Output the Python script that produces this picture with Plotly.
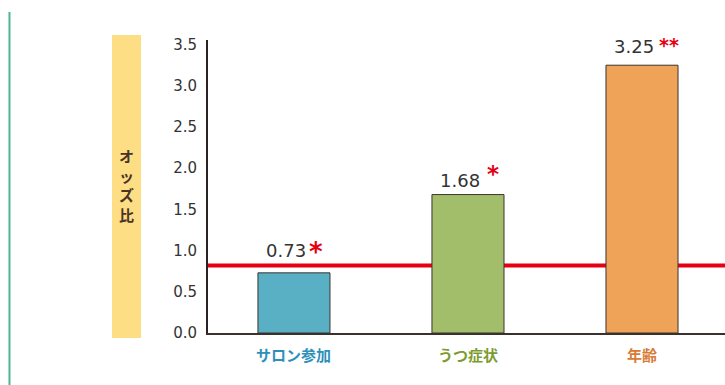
import plotly.graph_objects as go

# Odds ratios by factor
categories = ["サロン参加", "うつ症状", "年齢"]
odds_ratios = [0.73, 1.68, 3.25]
significance = ["*", "*", "**"]
reference_line = 0.82
y_ticks = [0.0, 0.5, 1.0, 1.5, 2.0, 2.5, 3.0, 3.5]
y_title = "オッズ比"

bar_colors = ["#59AFC4", "#A3BE6A", "#EEA359"]
label_colors = ["#2E90BA", "#7C9B2E", "#D77B37"]
value_yshift = [10, 2, 6]
star_yshift = [4, 6, 7]
star_xshift = [13, 17, 15]
star_sizes = [26, 23, 19]

x_pos = list(range(len(categories)))

fig = go.Figure()
fig.add_trace(go.Bar(
    x=x_pos, y=odds_ratios, width=0.414,
    marker=dict(color=bar_colors, line=dict(color="#3C3430", width=1)),
    hoverinfo="skip",
))

annotations = []
for i, (v, s) in enumerate(zip(odds_ratios, significance)):
    annotations.append(dict(
        x=i, y=v, xref="x", yref="y", text=f"{v:.2f}", showarrow=False,
        xanchor="right", yanchor="bottom", xshift=14, yshift=value_yshift[i],
        font=dict(family="DejaVu Sans", size=18, color="#333333"),
    ))
    annotations.append(dict(
        x=i, y=v, xref="x", yref="y", text=f"<b>{s}</b>", showarrow=False,
        xanchor="left", yanchor="bottom", xshift=star_xshift[i], yshift=star_yshift[i],
        font=dict(family="DejaVu Sans", size=star_sizes[i], color="#E60012"),
    ))
    annotations.append(dict(
        x=i, y=0, xref="x", yref="y", text=f"<b>{categories[i]}</b>", showarrow=False,
        xanchor="center", yanchor="middle", yshift=-21,
        font=dict(family="Noto Sans CJK JP", size=15, color=label_colors[i]),
    ))

# vertical axis title, one character per line
annotations.append(dict(
    x=-0.157, y=0.505, xref="paper", yref="paper",
    text="<br>".join(f"<b>{ch}</b>" for ch in y_title), showarrow=False,
    xanchor="center", yanchor="middle",
    font=dict(family="Noto Sans CJK JP", size=15, color="#4A3424"),
))

shapes = [
    # title band
    dict(type="rect", xref="paper", yref="paper", x0=-0.1857, x1=-0.1296,
         y0=-0.017, y1=1.017, fillcolor="#FDDE84", line=dict(width=0), layer="below"),
    # left rule
    dict(type="line", xref="paper", yref="paper", x0=-0.384, x1=-0.384,
         y0=-0.18, y1=1.0956, line=dict(color="#4DB596", width=2)),
    # reference line
    dict(type="line", xref="paper", yref="y", x0=0, x1=1, y0=reference_line,
         y1=reference_line, line=dict(color="#E60012", width=4), layer="below"),
]

fig.update_layout(
    width=725, height=385,
    margin=dict(l=208, r=0, t=40, b=52),
    paper_bgcolor="white", plot_bgcolor="white",
    showlegend=False,
    annotations=annotations,
    shapes=shapes,
    xaxis=dict(range=[-0.494, 2.477], showticklabels=False, showgrid=False,
               zeroline=False, showline=True, linecolor="#3A302C", linewidth=2,
               ticks="", fixedrange=True),
    yaxis=dict(range=[0, 3.556], tickvals=y_ticks,
               ticktext=[f"{t:.1f}" for t in y_ticks], showgrid=False,
               zeroline=False, showline=True, linecolor="#2A2220", linewidth=2,
               ticks="", ticklabelstandoff=6,
               tickfont=dict(family="DejaVu Sans", size=15, color="#333333"),
               fixedrange=True),
)

fig.write_html("out.html")
